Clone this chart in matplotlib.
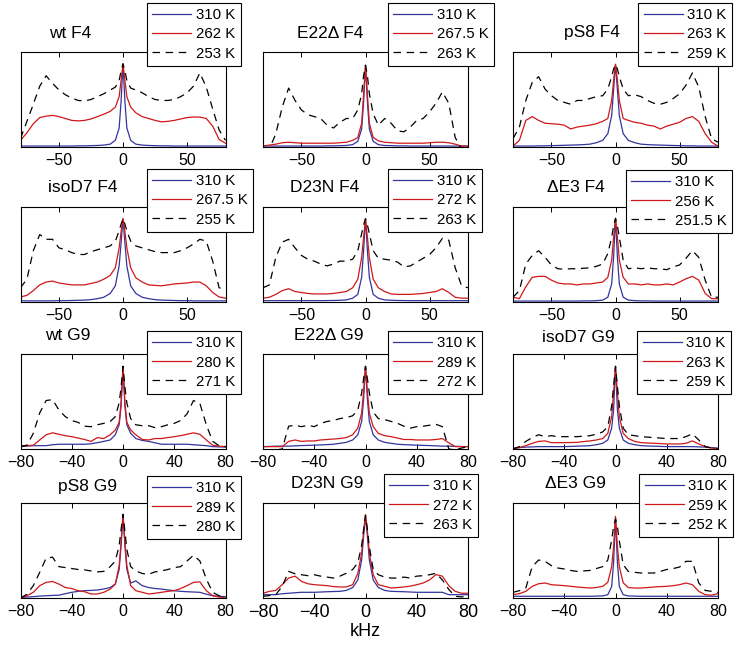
import matplotlib
matplotlib.use('Agg')
import matplotlib.pyplot as plt

plt.rcParams['font.family'] = ['Liberation Sans', 'DejaVu Sans']

BLUE = '#34349c'
RED = '#d01818'
BLACK = 'black'

# frequency grid (kHz) the curves were read on
khz = [-80, -75, -70, -65, -60, -55, -50, -45, -40, -35, -30, -25, -20, -15, -10, -6, -3, -1.5,
       0, 1.5, 3, 6, 10, 15, 20, 25, 30, 35, 40, 45, 50, 55, 60, 65, 70, 75, 80]

# ---- F4 spectra (intensity as fraction of axes height) ----
wt_f4_hi = [0.01, 0.01, 0.01, 0.01, 0.01, 0.01, 0.01, 0.01, 0.01, 0.012, 0.012, 0.014, 0.016, 0.02, 0.03, 0.07, 0.2, 0.48,
            0.875, 0.48, 0.2, 0.07, 0.03, 0.02, 0.016, 0.014, 0.012, 0.012, 0.01, 0.01, 0.01, 0.01, 0.01, 0.01, 0.01, 0.01, 0.01]
wt_f4_mid = [0.07, 0.15, 0.245, 0.31, 0.325, 0.333, 0.32, 0.3, 0.28, 0.275, 0.28, 0.295, 0.32, 0.345, 0.375, 0.42, 0.53, 0.7,
             0.875, 0.7, 0.53, 0.42, 0.36, 0.32, 0.3, 0.28, 0.265, 0.27, 0.28, 0.295, 0.31, 0.315, 0.315, 0.3, 0.22, 0.08, 0.04]
wt_f4_lo = [0.09, 0.27, 0.45, 0.64, 0.75, 0.67, 0.6, 0.55, 0.515, 0.49, 0.485, 0.5, 0.53, 0.56, 0.6, 0.63, 0.7, 0.8,
            0.875, 0.8, 0.7, 0.62, 0.6, 0.57, 0.53, 0.5, 0.49, 0.49, 0.5, 0.53, 0.57, 0.64, 0.78, 0.63, 0.4, 0.18, 0.07]

e22_f4_hi = [0.01, 0.01, 0.01, 0.01, 0.01, 0.01, 0.01, 0.01, 0.01, 0.01, 0.012, 0.012, 0.014, 0.016, 0.025, 0.06, 0.19, 0.47,
             0.86, 0.47, 0.19, 0.06, 0.025, 0.016, 0.014, 0.012, 0.012, 0.01, 0.01, 0.01, 0.01, 0.01, 0.01, 0.01, 0.01, 0.01, 0.01]
e22_f4_mid = [0.01, 0.02, 0.03, 0.045, 0.05, 0.045, 0.04, 0.04, 0.04, 0.04, 0.04, 0.04, 0.045, 0.05, 0.07, 0.1, 0.25, 0.55,
              0.86, 0.55, 0.25, 0.1, 0.065, 0.05, 0.045, 0.04, 0.04, 0.04, 0.04, 0.04, 0.045, 0.05, 0.05, 0.045, 0.03, 0.01, 0.01]
e22_f4_lo = [-0.02, -0.02, 0.14, 0.42, 0.62, 0.49, 0.39, 0.34, 0.32, 0.3, 0.23, 0.2, 0.26, 0.3, 0.3, 0.39, 0.56, 0.75,
             0.86, 0.75, 0.56, 0.35, 0.23, 0.3, 0.25, 0.17, 0.16, 0.21, 0.28, 0.3, 0.37, 0.46, 0.58, 0.46, 0.1, -0.02, -0.02]

ps8_f4_hi = [0.01, 0.01, 0.01, 0.01, 0.012, 0.012, 0.014, 0.016, 0.018, 0.02, 0.022, 0.025, 0.03, 0.045, 0.07, 0.14, 0.33, 0.6,
             0.87, 0.6, 0.33, 0.14, 0.07, 0.045, 0.03, 0.025, 0.022, 0.02, 0.018, 0.016, 0.014, 0.012, 0.012, 0.01, 0.01, 0.01, 0.01]
ps8_f4_mid = [0.01, 0.07, 0.28, 0.32, 0.28, 0.25, 0.245, 0.24, 0.23, 0.19, 0.21, 0.22, 0.23, 0.245, 0.27, 0.3, 0.49, 0.7,
              0.87, 0.7, 0.49, 0.3, 0.28, 0.26, 0.25, 0.23, 0.22, 0.19, 0.22, 0.24, 0.26, 0.3, 0.32, 0.27, 0.14, 0.05, 0.01]
ps8_f4_lo = [0.088, 0.21, 0.49, 0.68, 0.74, 0.61, 0.54, 0.49, 0.47, 0.45, 0.49, 0.49, 0.51, 0.53, 0.54, 0.61, 0.74, 0.82,
             0.87, 0.82, 0.74, 0.61, 0.54, 0.55, 0.53, 0.49, 0.46, 0.45, 0.47, 0.51, 0.56, 0.65, 0.78, 0.63, 0.32, 0.088, 0.05]

iso_f4_hi = [0.012, 0.012, 0.012, 0.012, 0.012, 0.012, 0.014, 0.014, 0.016, 0.018, 0.02, 0.025, 0.035, 0.05, 0.09, 0.17, 0.38, 0.62,
             0.876, 0.62, 0.38, 0.17, 0.09, 0.05, 0.035, 0.025, 0.02, 0.018, 0.016, 0.014, 0.014, 0.012, 0.012, 0.012, 0.012, 0.012, 0.012]
iso_f4_mid = [0.053, 0.07, 0.12, 0.18, 0.21, 0.22, 0.2, 0.19, 0.18, 0.18, 0.18, 0.195, 0.21, 0.24, 0.28, 0.36, 0.57, 0.74,
              0.876, 0.74, 0.57, 0.36, 0.255, 0.21, 0.18, 0.175, 0.17, 0.18, 0.19, 0.195, 0.2, 0.21, 0.21, 0.17, 0.1, 0.053, 0.04]
iso_f4_lo = [0.15, 0.24, 0.54, 0.71, 0.66, 0.66, 0.57, 0.55, 0.52, 0.5, 0.5, 0.53, 0.55, 0.57, 0.59, 0.64, 0.75, 0.82,
             0.876, 0.82, 0.75, 0.64, 0.59, 0.57, 0.55, 0.53, 0.52, 0.52, 0.52, 0.54, 0.57, 0.61, 0.66, 0.64, 0.43, 0.15, 0.13]

d23_f4_hi = [0.014, 0.014, 0.014, 0.014, 0.014, 0.014, 0.014, 0.014, 0.014, 0.014, 0.015, 0.016, 0.018, 0.022, 0.04, 0.08, 0.26, 0.54,
             0.876, 0.54, 0.26, 0.08, 0.04, 0.022, 0.018, 0.016, 0.015, 0.014, 0.014, 0.014, 0.014, 0.014, 0.014, 0.014, 0.014, 0.014, 0.014]
d23_f4_mid = [0.04, 0.05, 0.08, 0.12, 0.14, 0.11, 0.1, 0.09, 0.085, 0.085, 0.085, 0.09, 0.1, 0.11, 0.15, 0.24, 0.47, 0.68,
              0.876, 0.68, 0.47, 0.24, 0.15, 0.11, 0.085, 0.08, 0.08, 0.08, 0.085, 0.09, 0.1, 0.11, 0.14, 0.1, 0.05, 0.04, 0.04]
d23_f4_lo = [0.15, 0.18, 0.47, 0.63, 0.66, 0.57, 0.49, 0.45, 0.43, 0.4, 0.38, 0.4, 0.43, 0.43, 0.45, 0.54, 0.72, 0.81,
             0.876, 0.81, 0.72, 0.54, 0.46, 0.45, 0.44, 0.42, 0.37, 0.38, 0.42, 0.46, 0.5, 0.57, 0.67, 0.65, 0.36, 0.17, 0.15]

de3_f4_hi = [0.01, 0.01, 0.01, 0.01, 0.01, 0.01, 0.01, 0.01, 0.01, 0.01, 0.01, 0.012, 0.012, 0.014, 0.02, 0.05, 0.19, 0.47,
             0.88, 0.47, 0.19, 0.05, 0.02, 0.014, 0.012, 0.012, 0.01, 0.01, 0.01, 0.01, 0.01, 0.01, 0.01, 0.01, 0.01, 0.01, 0.01]
de3_f4_mid = [0.05, 0.035, 0.16, 0.26, 0.27, 0.27, 0.23, 0.2, 0.19, 0.19, 0.18, 0.19, 0.19, 0.2, 0.21, 0.26, 0.44, 0.68,
              0.88, 0.68, 0.44, 0.26, 0.19, 0.19, 0.18, 0.19, 0.18, 0.18, 0.19, 0.18, 0.21, 0.245, 0.27, 0.23, 0.09, 0.035, 0.035]
de3_f4_lo = [0.05, 0.12, 0.4, 0.49, 0.54, 0.47, 0.39, 0.35, 0.345, 0.35, 0.35, 0.355, 0.36, 0.375, 0.4, 0.51, 0.68, 0.8,
             0.88, 0.8, 0.68, 0.44, 0.35, 0.36, 0.35, 0.36, 0.35, 0.35, 0.34, 0.37, 0.39, 0.46, 0.54, 0.47, 0.23, 0.05, 0.05]

# ---- G9 spectra ----
wt_g9_hi = [0.025, 0.03, 0.035, 0.035, 0.035, 0.045, 0.05, 0.05, 0.05, 0.05, 0.05, 0.055, 0.067, 0.08, 0.095, 0.15, 0.255, 0.45,
            0.87, 0.45, 0.255, 0.165, 0.11, 0.09, 0.08, 0.065, 0.05, 0.05, 0.05, 0.05, 0.05, 0.045, 0.04, 0.035, 0.025, 0.022, 0.02]
wt_g9_mid = [0.035, 0.035, 0.04, 0.095, 0.15, 0.17, 0.155, 0.14, 0.13, 0.115, 0.1, 0.08, 0.12, 0.11, 0.15, 0.2, 0.28, 0.49,
             0.87, 0.49, 0.28, 0.2, 0.15, 0.1, 0.095, 0.11, 0.11, 0.12, 0.13, 0.14, 0.155, 0.17, 0.155, 0.095, 0.04, 0.03, 0.025]
wt_g9_lo = [0.025, 0.04, 0.165, 0.38, 0.51, 0.52, 0.41, 0.34, 0.3, 0.28, 0.24, 0.235, 0.255, 0.27, 0.29, 0.34, 0.485, 0.65,
            0.87, 0.65, 0.485, 0.32, 0.255, 0.245, 0.245, 0.225, 0.235, 0.255, 0.27, 0.3, 0.37, 0.51, 0.48, 0.255, 0.08, 0.035, 0.025]

e22_g9_hi = [0.025, 0.027, 0.03, 0.03, 0.03, 0.033, 0.036, 0.038, 0.04, 0.043, 0.046, 0.05, 0.06, 0.07, 0.095, 0.15, 0.29, 0.52,
             0.87, 0.52, 0.29, 0.15, 0.095, 0.07, 0.06, 0.05, 0.046, 0.043, 0.04, 0.038, 0.036, 0.033, 0.03, 0.03, 0.028, 0.026, 0.025]
e22_g9_mid = [0.025, 0.025, 0.025, 0.025, 0.08, 0.095, 0.08, 0.085, 0.085, 0.095, 0.1, 0.105, 0.11, 0.12, 0.15, 0.22, 0.38, 0.6,
              0.87, 0.6, 0.38, 0.235, 0.165, 0.14, 0.13, 0.115, 0.1, 0.1, 0.095, 0.095, 0.095, 0.1, 0.11, 0.065, 0.025, 0.025, 0.025]
e22_g9_lo = [-0.01, -0.01, -0.01, 0.0, 0.24, 0.25, 0.235, 0.25, 0.235, 0.27, 0.29, 0.3, 0.32, 0.33, 0.35, 0.41, 0.59, 0.74,
             0.87, 0.74, 0.59, 0.39, 0.32, 0.31, 0.29, 0.27, 0.24, 0.22, 0.235, 0.24, 0.25, 0.26, 0.235, 0.0, -0.01, 0.01, 0.025]

iso_g9_hi = [0.01, 0.015, 0.02, 0.022, 0.025, 0.025, 0.025, 0.025, 0.025, 0.027, 0.03, 0.032, 0.035, 0.045, 0.06, 0.095, 0.22, 0.41,
             0.87, 0.41, 0.22, 0.095, 0.06, 0.045, 0.035, 0.032, 0.03, 0.027, 0.025, 0.025, 0.025, 0.025, 0.025, 0.022, 0.02, 0.015, 0.01]
iso_g9_mid = [0.0, 0.015, 0.035, 0.06, 0.08, 0.085, 0.067, 0.067, 0.067, 0.068, 0.07, 0.078, 0.085, 0.095, 0.11, 0.165, 0.34, 0.59,
              0.87, 0.59, 0.34, 0.165, 0.11, 0.08, 0.067, 0.063, 0.06, 0.057, 0.053, 0.053, 0.053, 0.06, 0.085, 0.053, 0.025, 0.01, 0.0]
iso_g9_lo = [0.0, 0.025, 0.08, 0.12, 0.15, 0.13, 0.14, 0.13, 0.13, 0.13, 0.13, 0.135, 0.14, 0.155, 0.18, 0.235, 0.45, 0.66,
             0.87, 0.66, 0.45, 0.22, 0.15, 0.14, 0.13, 0.125, 0.12, 0.115, 0.11, 0.11, 0.11, 0.13, 0.16, 0.095, 0.025, 0.01, 0.0]

ps8_g9_hi = [0.007, 0.01, 0.014, 0.02, 0.024, 0.027, 0.03, 0.045, 0.06, 0.07, 0.077, 0.08, 0.084, 0.095, 0.11, 0.146, 0.3, 0.55,
             0.88, 0.55, 0.3, 0.157, 0.18, 0.13, 0.11, 0.1, 0.094, 0.085, 0.077, 0.07, 0.066, 0.063, 0.06, 0.04, 0.024, 0.018, 0.014]
ps8_g9_mid = [0.0, 0.024, 0.06, 0.13, 0.164, 0.174, 0.146, 0.11, 0.1, 0.077, 0.066, 0.042, 0.042, 0.06, 0.094, 0.146, 0.34, 0.58,
              0.88, 0.58, 0.34, 0.13, 0.077, 0.06, 0.042, 0.05, 0.06, 0.07, 0.077, 0.1, 0.13, 0.164, 0.17, 0.077, 0.024, 0.01, 0.0]
ps8_g9_lo = [0.0, 0.04, 0.13, 0.27, 0.42, 0.43, 0.33, 0.32, 0.31, 0.3, 0.296, 0.285, 0.275, 0.28, 0.33, 0.39, 0.55, 0.72,
             0.88, 0.7, 0.51, 0.33, 0.285, 0.258, 0.25, 0.275, 0.285, 0.3, 0.32, 0.33, 0.39, 0.45, 0.39, 0.2, 0.06, 0.024, 0.0]

d23_g9_hi = [0.035, 0.035, 0.035, 0.045, 0.05, 0.055, 0.06, 0.06, 0.06, 0.063, 0.066, 0.068, 0.07, 0.08, 0.11, 0.19, 0.4, 0.65,
             0.86, 0.65, 0.4, 0.19, 0.11, 0.08, 0.07, 0.068, 0.066, 0.063, 0.06, 0.06, 0.06, 0.06, 0.06, 0.035, 0.035, 0.035, 0.035]
d23_g9_mid = [0.05, 0.07, 0.08, 0.14, 0.21, 0.23, 0.175, 0.15, 0.14, 0.135, 0.13, 0.12, 0.116, 0.116, 0.14, 0.26, 0.47, 0.7,
              0.877, 0.7, 0.47, 0.246, 0.14, 0.123, 0.105, 0.11, 0.116, 0.125, 0.14, 0.158, 0.19, 0.246, 0.23, 0.13, 0.07, 0.05, 0.05]
d23_g9_lo = [0.018, 0.025, 0.035, 0.123, 0.28, 0.255, 0.245, 0.235, 0.245, 0.23, 0.22, 0.21, 0.23, 0.26, 0.3, 0.37, 0.55, 0.72,
             0.87, 0.72, 0.54, 0.3, 0.245, 0.22, 0.21, 0.21, 0.22, 0.21, 0.23, 0.235, 0.245, 0.26, 0.19, 0.09, 0.018, 0.012, 0.018]

de3_g9_hi = [0.018, 0.018, 0.018, 0.018, 0.018, 0.018, 0.018, 0.018, 0.018, 0.018, 0.018, 0.018, 0.018, 0.02, 0.022, 0.035, 0.12, 0.37,
             0.84, 0.37, 0.12, 0.035, 0.022, 0.02, 0.018, 0.018, 0.018, 0.018, 0.018, 0.018, 0.018, 0.018, 0.018, 0.018, 0.018, 0.018, 0.018]
de3_g9_mid = [0.035, 0.046, 0.07, 0.123, 0.15, 0.158, 0.14, 0.135, 0.13, 0.123, 0.116, 0.11, 0.105, 0.11, 0.123, 0.165, 0.33, 0.54,
              0.86, 0.54, 0.33, 0.16, 0.11, 0.105, 0.105, 0.11, 0.116, 0.12, 0.123, 0.13, 0.14, 0.158, 0.14, 0.07, 0.035, 0.03, 0.046]
de3_g9_lo = [0.06, 0.077, 0.105, 0.33, 0.4, 0.386, 0.34, 0.316, 0.305, 0.29, 0.28, 0.285, 0.29, 0.31, 0.33, 0.4, 0.61, 0.75,
             0.83, 0.75, 0.6, 0.35, 0.28, 0.27, 0.263, 0.263, 0.263, 0.28, 0.3, 0.31, 0.326, 0.386, 0.386, 0.158, 0.08, 0.07, 0.06]

titles = ['wt F4', 'E22\u0394 F4', 'pS8 F4',
          'isoD7 F4', 'D23N F4', '\u0394E3 F4',
          'wt G9', 'E22\u0394 G9', 'isoD7 G9',
          'pS8 G9', 'D23N G9', '\u0394E3 G9']
temps = [['310 K', '262 K', '253 K'], ['310 K', '267.5 K', '263 K'], ['310 K', '263 K', '259 K'],
         ['310 K', '267.5 K', '255 K'], ['310 K', '272 K', '263 K'], ['310 K', '256 K', '251.5 K'],
         ['310 K', '280 K', '271 K'], ['310 K', '289 K', '272 K'], ['310 K', '263 K', '259 K'],
         ['310 K', '289 K', '280 K'], ['310 K', '272 K', '263 K'], ['310 K', '259 K', '252 K']]
spectra = [(wt_f4_hi, wt_f4_mid, wt_f4_lo), (e22_f4_hi, e22_f4_mid, e22_f4_lo), (ps8_f4_hi, ps8_f4_mid, ps8_f4_lo),
           (iso_f4_hi, iso_f4_mid, iso_f4_lo), (d23_f4_hi, d23_f4_mid, d23_f4_lo), (de3_f4_hi, de3_f4_mid, de3_f4_lo),
           (wt_g9_hi, wt_g9_mid, wt_g9_lo), (e22_g9_hi, e22_g9_mid, e22_g9_lo), (iso_g9_hi, iso_g9_mid, iso_g9_lo),
           (ps8_g9_hi, ps8_g9_mid, ps8_g9_lo), (d23_g9_hi, d23_g9_mid, d23_g9_lo), (de3_g9_hi, de3_g9_mid, de3_g9_lo)]

# layout in pixels of the 736x648 canvas
W, H = 736, 648
COL_X = [20.5, 263, 513]
ROW_Y = [52, 207, 354, 503]
AX_W, AX_H = 205, 95
# title centres
TITLE_XY = [(70, 33), (330, 33), (592, 33),
            (83, 188), (325, 188), (576, 187),
            (68, 336), (329, 336), (578, 337),
            (88, 486), (327, 483), (575, 483)]
# legend anchor: (x, y_top); col 3 legends anchored on their right edge
LEG_XY = [(147, 3), (388, 3), (732, 3),
          (147, 169), (388, 169), (732, 170),
          (147, 331), (388, 331), (731, 331),
          (147, 476), (384, 474), (733, 474)]


def make():
    fig = plt.figure(figsize=(W / 100, H / 100), dpi=100)
    fig.patch.set_facecolor('white')

    for i in range(12):
        r, c = divmod(i, 3)
        x0, y0 = COL_X[c], ROW_Y[r]
        ax = fig.add_axes([x0 / W, 1 - (y0 + AX_H) / H, AX_W / W, AX_H / H])
        hi, mid, lo = spectra[i]
        l1, = ax.plot(khz, hi, color=BLUE, lw=0.9)
        l2, = ax.plot(khz, mid, color=RED, lw=0.9)
        l3, = ax.plot(khz, lo, color=BLACK, lw=0.9, dashes=(6, 4.5))
        ax.set_xlim(-80, 80)
        ax.set_ylim(0, 1)
        ax.set_yticks([])
        if r < 2:
            ax.set_xticks([-50, 0, 50])
        else:
            ax.set_xticks([-80, -40, 0, 40, 80])
        big = (i == 10)
        ax.tick_params(axis='x', direction='in', top=True, length=3.5, width=0.7,
                       labelsize=13 if big else 11.5, pad=4)
        for s in ax.spines.values():
            s.set_linewidth(0.8)

        lx, ly = LEG_XY[i]
        leg = ax.legend([l1, l2, l3], temps[i],
                        loc='upper right' if c == 2 else 'upper left',
                        bbox_to_anchor=(lx / W, 1 - ly / H), bbox_transform=fig.transFigure,
                        borderaxespad=0, fontsize=10.8, frameon=True, fancybox=False,
                        framealpha=1, edgecolor='black', handlelength=2.6,
                        handletextpad=0.3, labelspacing=0.34, borderpad=0.36)
        leg.get_frame().set_linewidth(0.8)
        for t in leg.get_texts():
            t.set_ha('right')

        tx, ty = TITLE_XY[i]
        fig.text(tx / W, 1 - ty / H, titles[i], ha='center', va='center', fontsize=12.5)

    fig.text(365 / W, 1 - 632 / H, 'kHz', ha='center', va='center', fontsize=13)

    fig.savefig('out.png', dpi=100, facecolor='white')


if __name__ == '__main__':
    make()
